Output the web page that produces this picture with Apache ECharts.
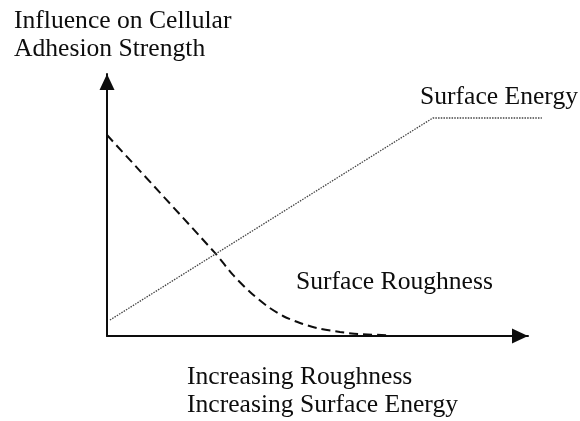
<!DOCTYPE html>
<html>
<head>
<meta charset="utf-8">
<script src="https://cdn.jsdelivr.net/npm/echarts@6/dist/echarts.min.js"></script>
<style>
  html, body { margin: 0; padding: 0; background: #fff; }
  #chart { width: 580px; height: 421px; }
</style>
</head>
<body>
<div id="chart"></div>
<script>
// Schematic: influence of roughness and surface energy on cell adhesion strength
const roughnessX = [0, 25.65, 29.93, 33.97, 38.0, 41.81, 45.84, 49.88, 55.34, 59.62, 67.2];
const roughnessY = [76.7, 31.7, 23.3, 16.8, 11.45, 7.63, 4.96, 3.05, 1.53, 0.76, 0.27];
const energyX = [0.7, 77.4, 103.3];
const energyY = [6.1, 83.2, 83.2];

const yAxisTitle = ['Influence on Cellular', 'Adhesion Strength'];
const xAxisTitle = ['Increasing Roughness', 'Increasing Surface Energy'];
const energyLabel = 'Surface Energy';
const roughnessLabel = 'Surface Roughness';

const pair = (xs, ys) => xs.map((x, i) => [x, ys[i]]);
const serif = '"Liberation Serif", "Times New Roman", serif';
const ink = '#0d0d0d';

const chart = echarts.init(document.getElementById('chart'), null, { renderer: 'canvas' });

// Visible arrowed axes live in grid 0; curves are drawn in grid 1, which shares
// the same scale but reaches a little further right so the energy plateau
// can run past the arrow head.
const arrowAxis = (gridIndex) => ({
  type: 'value',
  gridIndex: gridIndex,
  min: 0,
  max: 100,
  axisTick: { show: false },
  axisLabel: { show: false },
  splitLine: { show: false },
  axisLine: {
    show: true,
    symbol: ['none', 'triangle'],
    symbolSize: [15, 16],
    symbolOffset: [0, -8],
    lineStyle: { color: ink, width: 2 }
  }
});

const hiddenAxis = (gridIndex, max) => ({
  type: 'value',
  gridIndex: gridIndex,
  min: 0,
  max: max,
  show: false
});

const textEl = (text, left, top) => ({
  type: 'text',
  left: left,
  top: top,
  style: {
    text: text,
    font: '25.6px ' + serif,
    fill: ink,
    lineHeight: 28
  }
});

chart.setOption({
  animation: false,
  backgroundColor: '#fff',
  grid: [
    { left: 107, right: 52, top: 74, bottom: 85 },
    { left: 107, right: 38, top: 74, bottom: 85 }
  ],
  xAxis: [arrowAxis(0), hiddenAxis(1, 103.33)],
  yAxis: [arrowAxis(0), hiddenAxis(1, 100)],
  series: [
    {
      name: roughnessLabel,
      type: 'line',
      xAxisIndex: 1,
      yAxisIndex: 1,
      data: pair(roughnessX, roughnessY),
      smooth: 0.25,
      symbol: 'none',
      lineStyle: { color: ink, width: 2, type: [9, 5] }
    },
    {
      name: energyLabel,
      type: 'line',
      xAxisIndex: 1,
      yAxisIndex: 1,
      data: pair(energyX, energyY),
      symbol: 'none',
      lineStyle: { color: '#444', width: 1.3, type: [1.5, 1.2] }
    }
  ],
  graphic: [
    textEl(yAxisTitle.join('\n'), 14, 7),
    textEl(energyLabel, 420, 83),
    textEl(roughnessLabel, 296, 268),
    textEl(xAxisTitle.join('\n'), 187, 363)
  ]
});
</script>
</body>
</html>
